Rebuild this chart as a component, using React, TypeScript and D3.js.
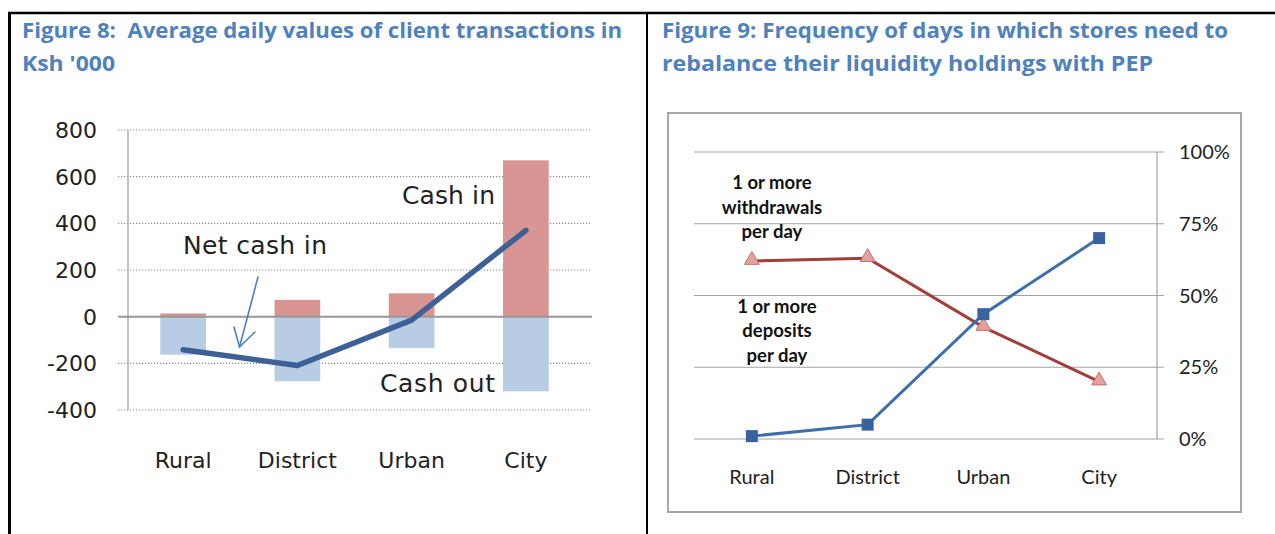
import React from 'react';
import * as d3 from 'd3';

// Figure 8 data (Ksh '000)
const areas = ['Rural', 'District', 'Urban', 'City'];
const cashIn = [14, 72, 100, 670];
const cashOut = [-163, -277, -135, -320];
const netCashIn = [-142, -209, -15, 370];
const leftTicks = [800, 600, 400, 200, 0, -200, -400];

// Figure 9 data (share of days)
const deposits = [0.01, 0.05, 0.435, 0.70];
const withdrawals = [0.62, 0.63, 0.39, 0.20];
const rightTicks = [1, 0.75, 0.5, 0.25, 0];

const TITLE_BLUE = '#4f81bd';

const LeftChart: React.FC = () => {
  const x = d3.scaleBand<string>().domain(areas).range([126, 583]).paddingInner(0.6).paddingOuter(0.3);
  const y = d3.scaleLinear().domain([-400, 800]).range([410, 130]);
  const cx = (c: string) => (x(c) || 0) + x.bandwidth() / 2;
  const line = d3.line<number>()
    .x((_, i) => cx(areas[i]))
    .y(d => y(d));
  const font = "'DejaVu Sans', sans-serif";

  return (
    <g>
      {leftTicks.filter(t => t !== 0).map(t => (
        <line key={t} x1={118} x2={590} y1={y(t)} y2={y(t)}
          stroke="#8c8c8c" strokeWidth={1.2} strokeDasharray="1.2 1.8" />
      ))}
      <line x1={128} x2={128} y1={y(800)} y2={y(-400)} stroke="#b0b0b0" strokeWidth={1.5} />
      {areas.map((c, i) => (
        <g key={c}>
          <rect x={x(c)} width={x.bandwidth()} y={y(cashIn[i])} height={y(0) - y(cashIn[i])} fill="#d99594" />
          <rect x={x(c)} width={x.bandwidth()} y={y(0)} height={y(cashOut[i]) - y(0)} fill="#b8cce4" />
        </g>
      ))}
      <line x1={118} x2={592} y1={y(0)} y2={y(0)} stroke="#979797" strokeWidth={2} />
      <path d={line(netCashIn) || ''} fill="none" stroke="#3d6196" strokeWidth={5.5}
        strokeLinecap="round" strokeLinejoin="round" />
      {leftTicks.map(t => (
        <text key={t} x={97} y={y(t)} dy="0.36em" textAnchor="end" fontFamily={font} fontSize={22} fill="#222">
          {t}
        </text>
      ))}
      {areas.map(c => (
        <text key={c} x={cx(c)} y={468} textAnchor="middle" fontFamily={font} fontSize={22} fill="#222">
          {c}
        </text>
      ))}
      <g fontFamily={font} fontSize={25} fill="#222">
        <text x={495} y={204} textAnchor="end" textLength={93}>Cash in</text>
        <text x={183} y={254} textLength={144}>Net cash in</text>
        <text x={495} y={392} textAnchor="end" textLength={115}>Cash out</text>
      </g>
      {/* arrow pointing at the net line */}
      <g stroke="#4f7fc0" strokeWidth={1.6} fill="none" strokeLinecap="round">
        <line x1={258} y1={277} x2={239.5} y2={347} />
        <polyline points="234,327 239.5,347 255,332" />
      </g>
    </g>
  );
};

const RightChart: React.FC = () => {
  const x = d3.scaleBand<string>().domain(areas).range([694, 1157]);
  const y = d3.scaleLinear().domain([0, 1]).range([439, 152]);
  const cx = (c: string) => (x(c) || 0) + x.bandwidth() / 2;
  const line = d3.line<number>()
    .x((_, i) => cx(areas[i]))
    .y(d => y(d));
  const font = "Lato, 'Open Sans', sans-serif";
  const tri = d3.symbol().type(d3.symbolTriangle).size(95)() || '';

  return (
    <g>
      <rect x={668} y={113} width={573} height={399} fill="#fff" stroke="#a6a6a6" strokeWidth={2} />
      {rightTicks.map(t => (
        <g key={t}>
          <line x1={694} x2={1164} y1={y(t)} y2={y(t)} stroke="#a3a3a3" strokeWidth={1.2} />
          <text x={1179} y={y(t)} dy="0.36em" fontFamily={font} fontSize={20} fill="#222">
            {d3.format('.0%')(t)}
          </text>
        </g>
      ))}
      <line x1={1157} x2={1157} y1={y(1)} y2={y(0)} stroke="#a3a3a3" strokeWidth={1.2} />
      <path d={line(withdrawals) || ''} fill="none" stroke="#a23d3a" strokeWidth={3} />
      <path d={line(deposits) || ''} fill="none" stroke="#3f6ea8" strokeWidth={3} />
      {areas.map((c, i) => (
        <g key={c}>
          <path d={tri} transform={`translate(${cx(c)},${y(withdrawals[i]) - 1})`}
            fill="#e3a09e" stroke="#c8706d" strokeWidth={1} />
          <rect x={cx(c) - 6} y={y(deposits[i]) - 6} width={12} height={12} fill="#3a62a0" />
          <text x={cx(c)} y={484} textAnchor="middle" fontFamily={font} fontSize={20} fill="#222">{c}</text>
        </g>
      ))}
      <g fontFamily={font} fontSize={18.5} fontWeight={700} fill="#111" textAnchor="middle">
        <text x={772} y={189}>1 or more</text>
        <text x={772} y={214}>withdrawals</text>
        <text x={772} y={238}>per day</text>
        <text x={777} y={313}>1 or more</text>
        <text x={777} y={337}>deposits</text>
        <text x={777} y={362}>per day</text>
      </g>
    </g>
  );
};

const App: React.FC = () => {
  const titleFont = "'Open Sans', Lato, sans-serif";
  return (
    <svg width={1275} height={534} style={{ position: 'absolute', left: 0, top: 0, background: '#fff' }}>
      <rect width={1275} height={534} fill="#fff" />
      {/* table borders */}
      <line x1={8} x2={1275} y1={13} y2={13} stroke="#000" strokeWidth={2.5} />
      <line x1={9.5} x2={9.5} y1={12} y2={534} stroke="#000" strokeWidth={3} />
      <line x1={647} x2={647} y1={12} y2={534} stroke="#000" strokeWidth={2} />
      <g fontFamily={titleFont} fontWeight={700} fontSize={20.5} fill={TITLE_BLUE} lengthAdjust="spacingAndGlyphs">
        <text x={22} y={38} xmlSpace="preserve" textLength={600} lengthAdjust="spacingAndGlyphs">Figure 8:  Average daily values of client transactions in</text>
        <text x={22} y={71} textLength={93} lengthAdjust="spacingAndGlyphs">Ksh '000</text>
        <text x={662} y={38} textLength={566} lengthAdjust="spacingAndGlyphs">Figure 9: Frequency of days in which stores need to</text>
        <text x={662} y={71} textLength={491} lengthAdjust="spacingAndGlyphs">rebalance their liquidity holdings with PEP</text>
      </g>
      <LeftChart />
      <RightChart />
    </svg>
  );
};

export default App;
